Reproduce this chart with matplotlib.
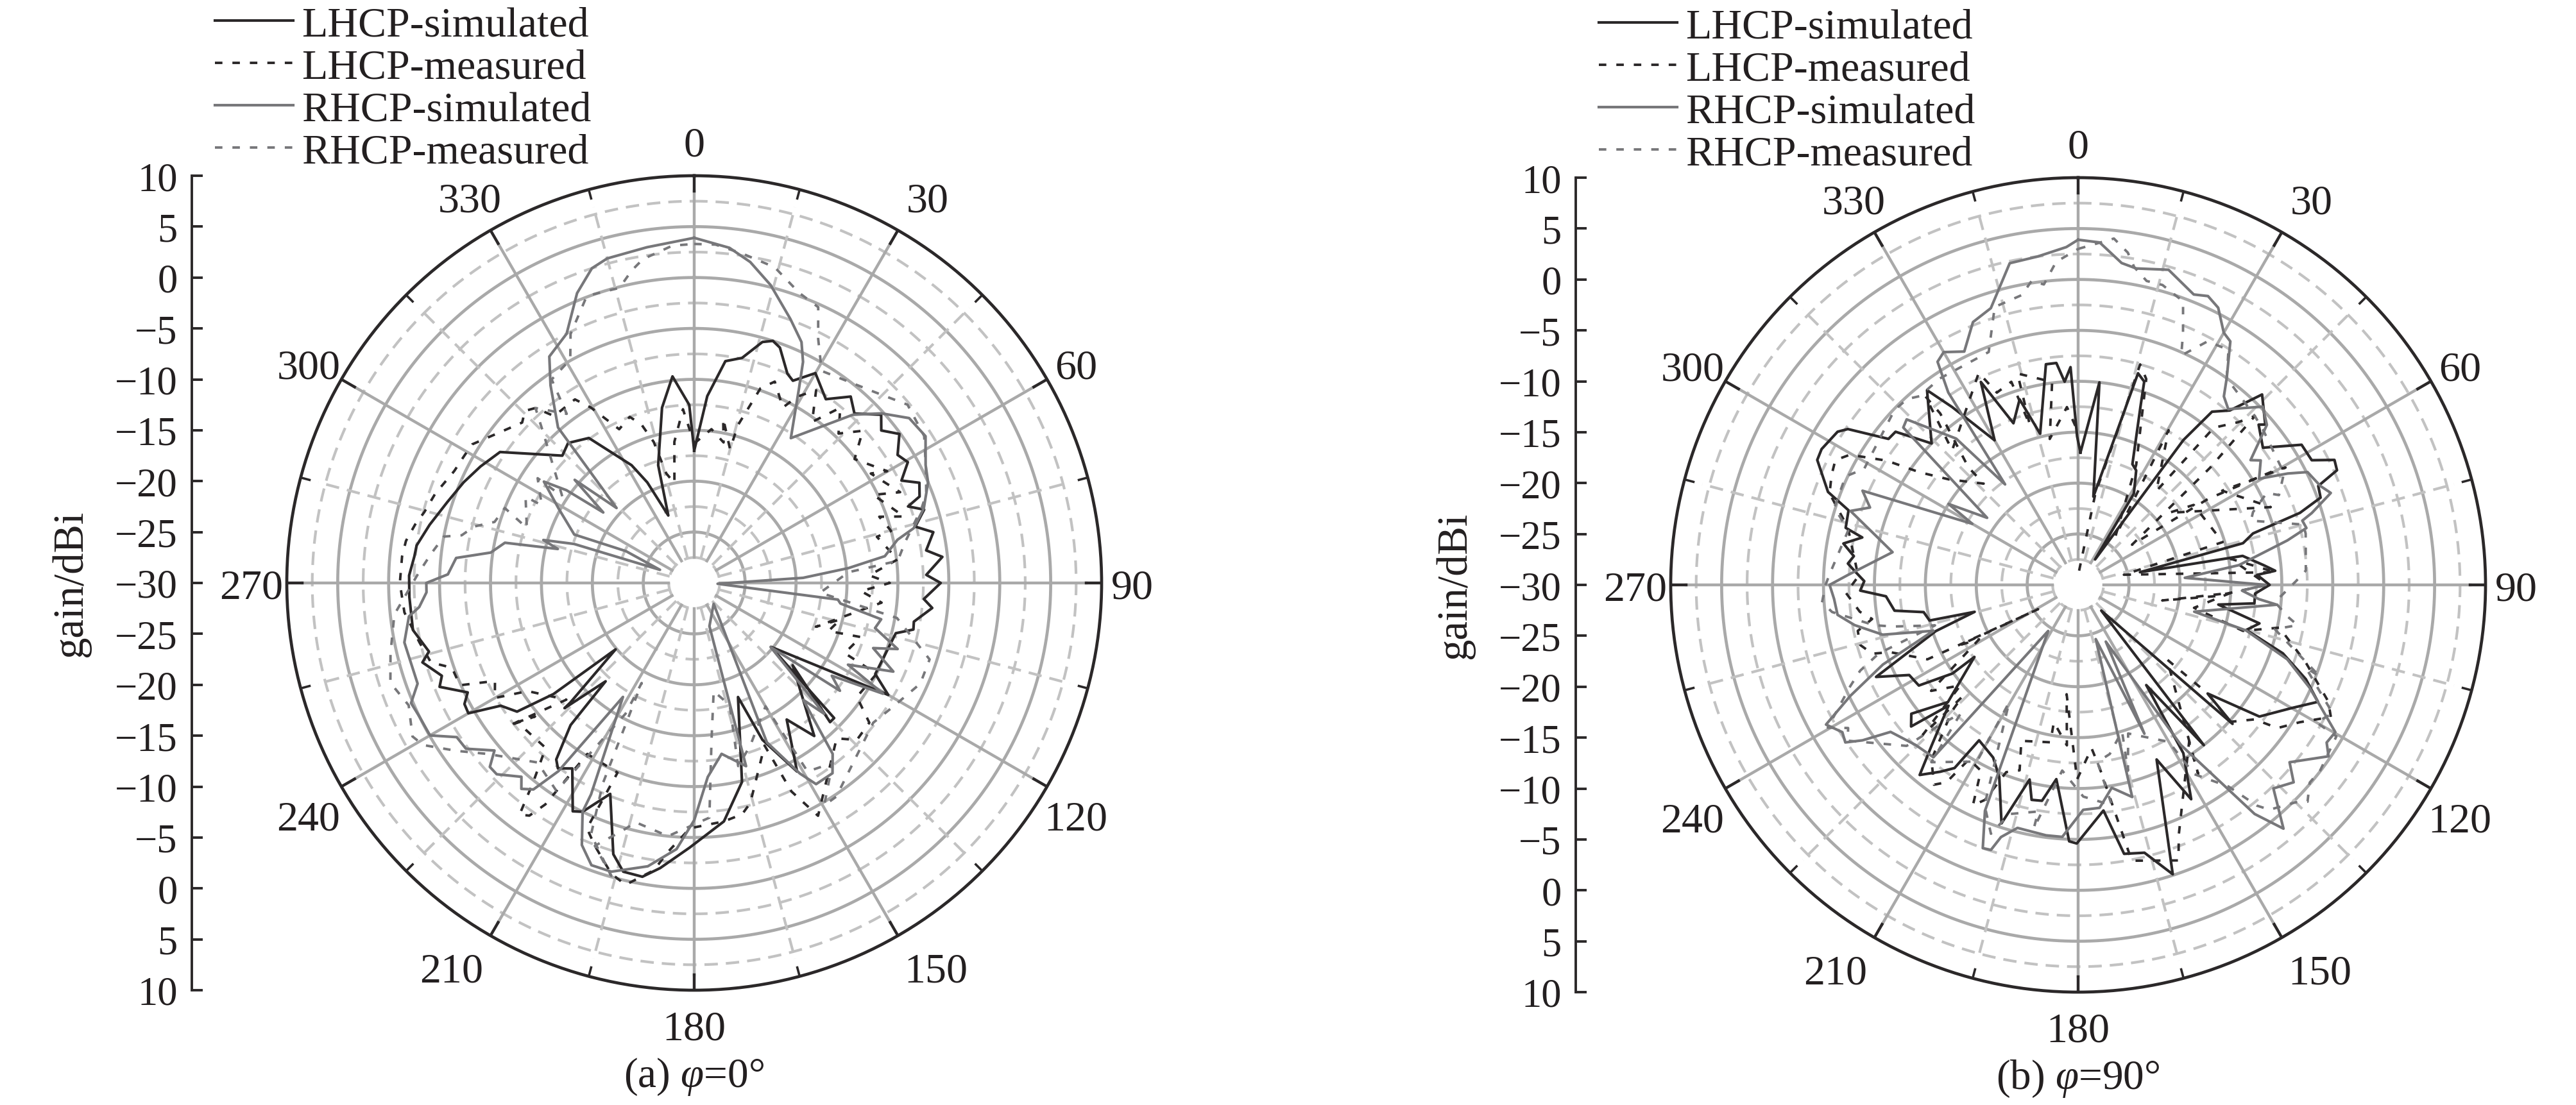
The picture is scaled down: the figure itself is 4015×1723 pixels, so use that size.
"""Simulated and measured radiation patterns of the antenna, two cuts."""

import numpy as np
import matplotlib
matplotlib.use('Agg')
import matplotlib.pyplot as plt

WIDTH, HEIGHT = 4016, 1724
RADIUS = 635
TEXT_COL = '#231f20'
GRID_COL = '#a9a9a9'
DASH_COL = '#c2c2c2'
BLACK = '#2b2829'
GRAY = '#77777a'

SPOKE_ANGLES = list(range(0, 360, 30))
MINOR_ANGLES = list(range(15, 360, 30))
ANGLE_LABELS = ['0', '30', '60', '90', '120', '150', '180', '210', '240', '270', '300', '330']
# pixel nudges of the angle labels, the source does not set them on a true circle
LABEL_NUDGE = [(0, -8), (18, -3), (-3, -10), (-8, -8), (-3, -23), (31, -8),
               (0, -5), (-33, -8), (-3, -23), (0, -8), (-3, -10), (-5, -3)]
SOLID_RINGS = [-25, -20, -15, -10, -5, 0, 5]
DASHED_RINGS = [-27.5, -22.5, -17.5, -12.5, -7.5, -2.5, 2.5, 7.5]
GAIN_LABELS = ['10', '5', '0', '−5', '−10', '−15', '−20', '−25', '−30',
               '−25', '−20', '−15', '−10', '−5', '0', '5', '10']
SERIES_NAMES = ['LHCP-simulated', 'LHCP-measured', 'RHCP-simulated', 'RHCP-measured']

# panel (a), phi = 0
a_lhcp_sim_theta = [0, 4, 8, 12, 15.8, 18, 20, 24, 26, 30, 35.6, 40, 43.4, 48, 50.8, 54, 57.8, 60.5, 63.7, 66, 69, 70.3,
                    72.3, 75.7, 78, 82, 84, 88, 90, 94, 96, 100, 102, 104, 116.7, 120, 129.8, 134, 135.7, 129.9, 141.9,
                    145.9, 151.4, 156.5, 159, 166.5, 172.9, 181, 186.8, 190, 193.8, 196.6, 201.7, 206, 208, 213.3,
                    216.3, 218, 221, 222, 226, 226, 229.8, 231.7, 234, 237.6, 240, 242.2, 244.2, 247.8, 249.8, 253.7,
                    255.5, 260.5, 267.2, 271.5, 275.4, 277.7, 282.4, 288.2, 293.6, 298.6, 304, 314, 318, 324, 332, 335,
                    339, 343, 349.6, 354, 358.4, 360]
a_lhcp_sim_gain = [-17, -11.6, -8, -7.4, -5.4, -5, -5.4, -7.5, -7.9, -6.2, -7.8, -6.1, -7.1, -5.3, -6.3, -5.1, -6.4, -5.9,
                   -7.3, -5.8, -6.3, -7.7, -6.3, -7.6, -6, -7, -5.5, -7.2, -5.8, -7.4, -6.5, -8.1, -8, -9.6, -10.1, -8,
                   -20.2, -10.9, -10.9, -17.4, -10.9, -13.8, -8.9, -13.2, -18, -9.9, -6.4, -4, -1.8, -0.7, -0.8, -2.2,
                   -7.7, -5, -4.6, -8.2, -7.4, -8, -11.5, -17, -12.3, -13.1, -19.9, -12.4, -8.5, -7.5, -4.4, -4.5,
                   -5.3, -3, -3.6, -2.2, -3.1, -2, -2, -2, -2.4, -2.5, -3.4, -4.5, -5.3, -6.1, -7, -12, -11.5, -12.4,
                   -16.9, -19.1, -22.9, -17.9, -12.5, -9.6, -12.5, -17]

a_lhcp_meas_theta = [0, 6.4, 11.8, 10, 15, 15.5, 18.8, 21.8, 26.8, 28.9, 32.3, 36.2, 39.8, 44, 47.9, 52.3, 59.9, 58.2, 66.2,
                     63.8, 72.4, 70.3, 75.2, 75.8, 83.4, 87.5, 90, 92.8, 96, 109.8, 104, 109.7, 108, 115, 116.5, 125,
                     128.6, 134, 137.5, 152, 155, 156.6, 165.7, 168.3, 172.9, 181, 185.5, 188, 192.8, 195.9, 200.7,
                     203.6, 202, 212, 213.9, 215.3, 217, 218.9, 222, 231.8, 230, 232.4, 227.6, 237, 240, 243.8, 246.4,
                     250.7, 253.2, 257.8, 264.2, 270, 275.2, 278.3, 281.8, 284.7, 289, 295, 299, 302, 308, 313, 315.5,
                     317.8, 320, 327, 329.5, 334, 338.8, 341.6, 344, 345.7, 348.8, 352, 356.3, 360]
a_lhcp_meas_gain = [-16.3, -14.8, -15.9, -13.6, -16.4, -13.9, -9.8, -8.7, -10.7, -9.1, -7.6, -10.4, -7.6, -9.6, -7.7, -10.1,
                    -8.1, -9.6, -7.9, -10.4, -8.4, -10.7, -10, -11.5, -9.9, -12.8, -10.8, -13.6, -11.5, -17.3, -15.2,
                    -16, -12.8, -13.7, -10, -10.5, -8, -7.8, -9.3, -4.1, -7.4, -12.6, -7.7, -6.8, -6.4, -5.9, -3.5,
                    -1.5, 0.4, -0.3, -2.4, -3.7, -9.9, -10.2, -3.8, -2, -1.5, -4.8, -8.2, -7.9, -9.6, -7, -13, -10.5,
                    -7.4, -8.2, -4.9, -4.8, -3, -2.4, -1.4, -1.1, -1.2, -1.4, -2, -2.6, -3.1, -4, -4.2, -4.3, -5.9,
                    -6.9, -6.3, -6.8, -8.6, -8.5, -10, -13.2, -12.5, -13.6, -15.6, -18.9, -20, -16, -12.9, -16.3]

a_rhcp_sim_theta = [0, 6, 9.9, 14.4, 20, 24, 26.2, 28.3, 33.7, 43.3, 47.8, 52.5, 57.6, 63, 66.7, 72, 76, 78, 82, 84.5, 87.3,
                    92, 96.6, 98, 101, 104, 108, 110, 114, 118, 120.4, 124, 126.5, 130, 135.2, 137, 141, 144, 148.8, 151,
                    155.5, 137, 160.6, 164.2, 170.9, 176, 180, 183.8, 189.3, 196, 200, 203.2, 206, 206, 212, 215.8,
                    217.9, 220, 221.7, 225.9, 228, 230, 234, 237, 240, 244, 247, 250, 258.4, 263.3, 265, 268, 270, 272,
                    276, 278.5, 282, 284, 285.9, 288, 291, 295, 292, 298.8, 304, 306, 307.8, 310.8, 314, 318.8, 324,
                    327.4, 332.9, 338, 342, 345, 352, 360]
a_rhcp_sim_gain = [3.9, 3.1, 2, 0.2, -2.4, -4.1, -5.8, -8.3, -12.9, -7.3, -5.2, -3.4, -3.1, -4.5, -5, -6.3, -7.8, -9.6, -11.1,
                   -14.8, -19.3, -27.7, -15.8, -15.5, -11.3, -11.7, -9, -11.3, -8.6, -12.9, -8.5, -13.7, -12.2, -20.2,
                   -11.9, -14.3, -8.4, -6.9, -6.9, -8.6, -12.8, -27.2, -25.5, -11.3, -13, -10.9, -6.7, -3.8, -1.8, -0.5,
                   -0.5, -2, -5, -6.9, -16.8, -7.2, -4.3, -3.6, -4.5, -3, -3, -4.4, -2.3, -2.2, -0.05, 0, 0.2, -1.1,
                   -0.95, -1.8, -2.9, -3.7, -3.7, -5.8, -6.5, -9.8, -11, -16.2, -14.6, -17.6, -26.4, -22.6, -17.3,
                   -14.8, -12.2, -14.5, -18.7, -14.5, -19.4, -9.7, -6, -3.6, -2.5, 0.7, 2.5, 3, 3.3, 3.9]

a_rhcp_meas_theta = [0, 3.6, 8.3, 14.3, 19.9, 24.2, 26.9, 31, 43.4, 50.1, 57.4, 63.6, 69, 71.8, 79, 83.8, 86, 94.4, 99.8, 108,
                     114, 121.9, 128, 146.4, 149.7, 142.5, 149, 150, 161, 166.5, 163.8, 169.8, 173.7, 176.3, 185.9,
                     193.7, 196.3, 200.7, 195.8, 202.3, 204.5, 207.7, 207.7, 213.5, 221.1, 230.3, 234.8, 239.1, 241.4,
                     246.8, 251.8, 257, 264, 272, 276.3, 280.5, 281.6, 284.4, 287, 291.6, 288.2, 297.1, 297, 303.8,
                     303.3, 315, 317.8, 323, 325, 331, 333.6, 339.5, 345.8, 348.7, 351, 356.3, 360]
a_rhcp_meas_gain = [3.3, 3.3, 2.7, 2, 0.3, -0.3, -3.1, -5.7, -4.2, -2.7, -3.2, -4.6, -5.6, -6.5, -8.9, -9.9, -14.8, -17.6,
                    -9.8, -5.7, -5.7, -7, -7.7, -4.8, -4.7, -7.7, -8.4, -16, -13.1, -11.5, -17.5, -19.2, -14.5, -6.9, -5,
                    -5.8, -4.6, -2.4, -0.1, -3.3, -8.4, -18.9, -15.5, -5.5, -6.6, -3.7, -1.4, 1, 1.5, 0.5, 1.4, 0.6,
                    -0.4, -2.9, -4, -5, -6.7, -7.7, -9.5, -10, -12.7, -11.4, -13.2, -11.5, -14.5, -9, -6.8, -9.2, -5.6,
                    -4.9, -2.7, 0.1, -0.1, 1.3, 2.2, 3.2, 3.3]

# panel (b), phi = 90
b_lhcp_sim_theta = [1, 6, 9.8, 15.8, 18, 19.3, 24.2, 26.9, 31.4, 33.7, 36, 37.7, 41, 44, 49.4, 48.4, 53.4, 57.9, 61.9, 64,
                    66.1, 67.6, 70.2, 72, 73.6, 75.8, 78.4, 80, 83.9, 85.9, 86.8, 90, 92.8, 96, 98, 102, 105, 108.5,
                    112.5, 116, 120, 126, 130, 132, 138, 141.9, 145.8, 148, 152.2, 155.8, 161.9, 166.1, 170.3, 173.6,
                    180.3, 182, 186.4, 189.5, 192.2, 194, 197.8, 202.3, 206.2, 212.5, 214, 216.4, 219.8, 222.4, 227,
                    229.7, 232.3, 228, 235.2, 234.8, 237.7, 241.9, 245.5, 252, 255.4, 256.5, 260, 262, 266.6, 268.5,
                    271, 273.6, 275.3, 277.3, 280, 282.4, 283.8, 288, 290.4, 295.6, 297.9, 302.5, 304.1, 307.6, 310,
                    314, 322.2, 324.7, 330, 334.4, 338.2, 342.5, 345.9, 351.7, 354.4, 356.2, 358, 359.6, 361]
b_lhcp_sim_gain = [-17, -10, -21.2, -8.4, -9, -11.5, -17, -17.4, -19.5, -27, -12.4, -8.5, -7.3, -4, -5.8, -6.3, -7.4, -4.1, -4,
                   -2, -2.2, -4.5, -4.7, -7.1, -12.1, -13.3, -23.8, -13.6, -11.7, -10.6, -12.4, -11.2, -12.6, -12.6,
                   -16.1, -11.8, -12.9, -8.8, -5.8, -3.8, -5.8, -8, -13.4, -9.6, -26.6, -10, -18.1, -10.5, -6.2, -11.2,
                   -0.1, -2.9, -3.2, -7.7, -4.6, -4.8, -10.8, -8.5, -8.4, -10.3, -5.4, -9.6, -11.1, -11.9, -8.3, -7.2,
                   -5.7, -8.7, -12.6, -8.5, -9.3, -12.8, -17.6, -14.9, -11.5, -11.2, -8.2, -15.3, -19.5, -15, -14.6,
                   -11.8, -11.1, -8.6, -9, -8, -7.3, -7.8, -6.6, -8.3, -6.5, -6.3, -3.8, -1.6, -1.5, -2, -2.7, -6.5,
                   -6.6, -10, -5.8, -8.6, -13.6, -7.9, -12.9, -10.9, -14.7, -8.1, -8.1, -10, -8.6, -15.4, -17]

b_lhcp_meas_theta = [4, 10.7, 14.2, 15.7, 18.3, 25.8, 37.6, 30.3, 39.8, 40.8, 44.5, 46.3, 48.4, 53.3, 56.5, 59.8, 60.5, 56.8,
                     68, 51.6, 55.3, 73.5, 77.5, 86.3, 80.3, 90, 94.8, 100.5, 93, 101.2, 105.6, 102, 108.8, 115, 117.6,
                     121.8, 125.7, 127.3, 132, 130, 130, 130, 147.6, 144.8, 158, 160, 169, 173.3, 175.3, 180.3, 186, 184,
                     190, 190, 200, 197.5, 201, 203.4, 205.5, 207.6, 212, 213.7, 215.8, 220, 225, 226, 226, 229.5, 234.2,
                     241.2, 243, 238.7, 243.7, 250.3, 251.5, 254.6, 258.2, 260.6, 263, 268, 272.2, 284, 290.2, 294, 297.2,
                     299.7, 303, 305.4, 309.2, 317, 317, 321.2, 321, 316.9, 334.9, 337.1, 341.8, 343.2, 344, 352.7, 349,
                     356.4, 360]
b_lhcp_meas_gain = [-28.6, -20.8, -14.9, -7.5, -8.7, -16.9, -24, -12.4, -18, -9.6, -7.6, -6, -12.7, -23.4, -14.7, -7.6, -6.6,
                    -13.1, -9.6, -18.6, -16.2, -15.2, -25.4, -10.6, -14.8, -11.4, -16.6, -21.6, -15, -18.4, -13.2, -9.8,
                    -6.4, -2.9, -2, -4.4, -5.9, -8.2, -9.9, -13.4, -15.2, -18.6, -8, -11.1, -3.6, -1.2, -2.4, -11.9,
                    -13.9, -10.9, -19.2, -14.2, -16.3, -14.3, -13.7, -10.9, -10.3, -7, -6, -9.4, -9.8, -6.7, -5.8, -7.6,
                    -12.5, -14.2, -8.8, -14.8, -12.2, -18.9, -17, -25.4, -13.5, -10.4, -8.7, -7.8, -7.9, -9.5, -8.4,
                    -7.2, -8.4, -6.7, -4, -3.5, -3.2, -4.2, -7.6, -10.9, -13.6, -16.4, -14.2, -8.4, -6.2, -11.9, -7,
                    -9.5, -9, -13.6, -8.4, -9.9, -15.4, -12.5, -15]

b_rhcp_sim_theta = [0, 3.6, 7.7, 10.4, 16, 21.7, 24.2, 26.8, 30, 32, 35.7, 37.7, 40.5, 46, 49.7, 54.1, 55.7, 59.6, 62, 63.8,
                    67.8, 70, 72.9, 74, 76, 78, 83, 86.2, 90, 92, 94.5, 95.7, 103, 105.2, 109.6, 114, 119.8, 122.4, 124.4,
                    130, 132.5, 136.2, 139.9, 142.4, 143.6, 147.3, 154, 156, 162, 165.7, 170.6, 174.5, 178.7, 183.6,
                    187.3, 194, 197, 198.2, 199.9, 202.4, 213, 220, 225.4, 231.9, 234.2, 235.9, 238, 241, 244, 247.8,
                    252.4, 255.7, 259.8, 262.9, 266.7, 270, 272.5, 280, 283.6, 288, 290.4, 293.6, 300, 302, 306.4, 312,
                    314, 320.2, 324, 326, 327.8, 330, 334, 338.2, 342.5, 348, 353, 358, 360]
b_rhcp_sim_gain = [3.9, 3.7, 1.9, 1.6, 2.2, 0.7, 1.1, 0.5, -1.4, -1.8, -5, -6.6, -7.3, -4.8, -5.7, -9.1, -8.3, -9.4, -6.7, -4.9,
                   -4.3, -3.6, -6, -7.1, -6.9, -9, -14.1, -19.5, -11.6, -13.9, -12.2, -10.4, -18.3, -12.9, -8.2, -5.1,
                   -0.9, -1.1, -0.2, -2.9, -1.3, -2.3, 1.3, -1.6, -4.8, -11.3, -23.8, -14, -24.4, -8.5, -9.8, -8, -7.9,
                   -5.2, -5.2, -5.4, -4.1, -2.6, -2.5, -6, -24.6, -7.9, -7.6, -6.6, -3.9, -2.4, -2.7, -1.7, -5.1, -9.3,
                   -15.1, -10.2, -7.7, -6.2, -6, -5.6, -7.4, -11.5, -9.6, -6.5, -8.2, -6.9, -18, -15, -18.9, -6.9, -6.6,
                   -11.3, -17.8, -7.2, -4.1, -3.6, -4.5, -2.2, -1.5, 2.3, 2.5, 3.2, 3.9]

b_rhcp_meas_theta = [0, 5.9, 8.5, 10, 12.7, 15.7, 20.3, 22.6, 24.2, 28, 32.6, 35.7, 46.3, 50, 61.5, 65.9, 64, 67.4, 69.6, 75,
                     77.3, 86.4, 89, 95, 98.6, 100.4, 102.7, 110.8, 110, 116.8, 120, 120.4, 127.5, 130.5, 133.4, 135,
                     139.6, 141, 143.3, 148.5, 150, 161.4, 165, 163.3, 169.4, 173.8, 171.3, 178.6, 184.9, 190.3, 190,
                     196.7, 199.3, 203, 210.4, 209.8, 219.6, 222.4, 224.6, 226.8, 235.9, 238.1, 240.3, 246, 248.5, 251,
                     254.2, 257.3, 258.8, 263.7, 266.1, 270, 272.6, 283.3, 287.6, 295, 298.5, 313.6, 317.4, 320, 326.2,
                     339, 343.3, 349, 351.3, 353.5, 356.1, 358.8, 360]
b_rhcp_meas_gain = [3, 4.2, 3, 1.7, 0.6, 0.6, -0.3, -3.2, -5.3, -2.9, -2.6, -5, -6, -6.3, -7, -8.4, -9.4, -11.4, -11.9, -7.1,
                    -7.1, -7.6, -8.6, -10.6, -9.2, -8.1, -10.2, -4.6, -6.2, -2, -3, -0.6, -0.05, -0.1, 1, 0.2, -1, -2.1,
                    -5.3, -8.2, -12.2, -14.6, -11.1, -15, -13.1, -12.5, -8.1, -9.2, -11.7, -5.7, -7.4, -6.5, -4.1, -6.5,
                    -16.6, -10, -7.4, -12.9, -10.7, -6.9, -2.7, -3.4, -1.7, -5.5, -7, -9.3, -15.4, -11.4, -9.6, -5.7,
                    -4.8, -5.2, -5.6, -6.8, -4.9, -4.8, -6.1, -5.1, -5.2, -5.8, -5.6, -5.5, -1.5, -1, 0.2, -0.3, 1.8, 2.6,
                    3]


def draw_panel(fig, center_x, center_y, series, caption):
    """Draw one polar panel with its left gain scale and legend."""
    ax = fig.add_axes([(center_x - RADIUS) / WIDTH, (HEIGHT - center_y - RADIUS) / HEIGHT,
                       2 * RADIUS / WIDTH, 2 * RADIUS / HEIGHT], projection='polar')
    ax.set_theta_zero_location('N')
    ax.set_theta_direction(-1)
    ax.set_rlim(-30, 10)
    ax.set_xticks([])
    ax.set_yticks([])
    ax.grid(False)
    ax.spines['polar'].set_linewidth(3.4)
    ax.spines['polar'].set_color(BLACK)

    # rings and spokes stop short of the centre hole
    ring_theta = np.radians(np.arange(0, 361, 1))
    for ring in SOLID_RINGS:
        ax.plot(ring_theta, np.full_like(ring_theta, ring), color=GRID_COL, lw=3.4, zorder=1)
    for ring in DASHED_RINGS:
        ax.plot(ring_theta, np.full_like(ring_theta, ring), color=DASH_COL, lw=3,
                ls=(0, (5, 3)), zorder=1)
    for angle in SPOKE_ANGLES:
        ax.plot(np.radians([angle, angle]), [-27.5, 8.5], color=GRID_COL, lw=3.2, zorder=1)
        ax.plot(np.radians([angle, angle]), [8.5, 10], color=BLACK, lw=3.2, zorder=1)
    for angle in MINOR_ANGLES:
        ax.plot(np.radians([angle, angle]), [-27.5, 8.2], color=DASH_COL, lw=3,
                ls=(0, (5, 3)), zorder=1)
        ax.plot(np.radians([angle, angle]), [9.1, 10], color=BLACK, lw=2.6, zorder=1)

    styles = [dict(color=BLACK, lw=3), dict(color=BLACK, lw=2.8, ls=(0, (3, 4))),
              dict(color=GRAY, lw=3), dict(color=GRAY, lw=2.8, ls=(0, (3, 4)))]
    handles = []
    for name, (theta, gain), style in zip(SERIES_NAMES, series, styles):
        line, = ax.plot(np.radians(theta), gain, label=name, zorder=3, **style)
        handles.append(line)
    ax.set_rlim(-30, 10)

    for angle, label, nudge in zip(SPOKE_ANGLES, ANGLE_LABELS, LABEL_NUDGE):
        ax.annotate(label, xy=(np.radians(angle), 13.5), xytext=nudge, textcoords='offset pixels',
                    ha='center', va='center', fontsize=47.5, color=TEXT_COL, annotation_clip=False)

    fig.legend(handles=handles, loc='upper left', frameon=False, fontsize=47.5,
               bbox_to_anchor=((center_x - 747) / WIDTH, 1 - (center_y - 900) / HEIGHT),
               borderpad=0, borderaxespad=0, handlelength=1.85, handletextpad=0.2,
               labelspacing=0.09, labelcolor=TEXT_COL)

    # gain scale standing to the left of the polar plot
    scale = fig.add_axes([(center_x - 783) / WIDTH, (HEIGHT - center_y - RADIUS) / HEIGHT,
                          1 / WIDTH, 2 * RADIUS / HEIGHT])
    scale.set_ylim(len(GAIN_LABELS) - 1, 0)
    scale.set_yticks(range(len(GAIN_LABELS)))
    scale.set_yticklabels(GAIN_LABELS, fontsize=45, color=TEXT_COL)
    scale.set_xticks([])
    scale.tick_params(axis='y', direction='in', length=12, width=2.8, pad=16, color=BLACK)
    for side in ['top', 'right', 'bottom']:
        scale.spines[side].set_visible(False)
    scale.spines['left'].set_linewidth(2.8)
    scale.spines['left'].set_color(BLACK)

    fig.text((center_x - 972) / WIDTH, 1 - center_y / HEIGHT, 'gain/dBi', rotation=90,
             ha='center', va='center', fontsize=48, color=TEXT_COL)
    fig.text(center_x / WIDTH, 1 - (center_y + 769) / HEIGHT, caption, ha='center',
             va='center', fontsize=47, color=TEXT_COL)


def main():
    """Build both panels and save the figure."""
    plt.rcParams['font.family'] = ['Liberation Serif', 'DejaVu Serif']
    plt.rcParams['mathtext.fontset'] = 'custom'
    plt.rcParams['mathtext.rm'] = 'Liberation Serif'
    plt.rcParams['mathtext.it'] = 'Liberation Serif:italic'
    plt.rcParams['axes.unicode_minus'] = False

    fig = plt.figure(figsize=(WIDTH / 100, HEIGHT / 100), dpi=100)
    draw_panel(fig, 1082, 910,
               [(a_lhcp_sim_theta, a_lhcp_sim_gain), (a_lhcp_meas_theta, a_lhcp_meas_gain),
                (a_rhcp_sim_theta, a_rhcp_sim_gain), (a_rhcp_meas_theta, a_rhcp_meas_gain)],
               '(a) $\\varphi$=0°')
    draw_panel(fig, 3239, 913,
               [(b_lhcp_sim_theta, b_lhcp_sim_gain), (b_lhcp_meas_theta, b_lhcp_meas_gain),
                (b_rhcp_sim_theta, b_rhcp_sim_gain), (b_rhcp_meas_theta, b_rhcp_meas_gain)],
               '(b) $\\varphi$=90°')
    fig.savefig('out.png', dpi=100)


if __name__ == '__main__':
    main()
